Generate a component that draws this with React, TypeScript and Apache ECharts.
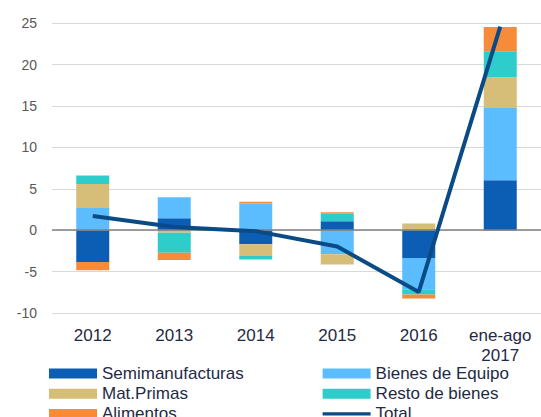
import React, { useEffect, useRef } from "react";
import * as echarts from "echarts";

const categories = ["2012", "2013", "2014", "2015", "2016", "ene-ago\n2017"];
const semimanufacturas = [-3.83, 1.45, -1.69, 1.09, -3.35, 6.05];
const bienesEquipo = [2.7, 2.54, 3.23, -2.9, -3.79, 8.71];
const matPrimas = [2.9, -0.3, -1.41, -1.25, 0.81, 3.71];
const restoBienes = [1.0, -2.42, -0.44, 0.89, -0.64, 3.14];
const alimentos = [-1.0, -0.88, 0.2, 0.2, -0.48, 2.94];
const total = [1.73, 0.39, -0.11, -1.97, -7.45, 24.6];

const FONT = "'Liberation Sans', Arial, sans-serif";
const TEXT = "#1F2A44";

export default function App() {
  const ref = useRef<HTMLDivElement>(null);
  useEffect(() => {
    if (!ref.current) return;
    const chart = echarts.init(ref.current, null, { renderer: "svg" });
    const bar = (name: string, data: number[], color: string, extra: any = {}) => ({
      name,
      type: "bar",
      stack: "a",
      data,
      barWidth: 33,
      itemStyle: { color },
      ...extra,
    });
    const legendBase = {
      orient: "vertical",
      top: 363.5,
      height: 80,
      padding: 0,
      itemWidth: 48,
      itemHeight: 10,
      itemGap: 0.2,
      textStyle: { color: TEXT, fontSize: 17, lineHeight: 20, fontFamily: FONT },
    };
    chart.setOption({
      animation: false,
      textStyle: { fontFamily: FONT },
      grid: { left: 52, top: 23.3, width: 500, height: 289.7, containLabel: false },
      xAxis: {
        type: "category",
        data: categories,
        axisLine: { show: false },
        axisTick: { show: false },
        axisLabel: { color: TEXT, fontSize: 17, lineHeight: 20.6, margin: 12, fontFamily: FONT },
      },
      yAxis: {
        type: "value",
        min: -10,
        max: 25,
        interval: 5,
        axisLine: { show: false },
        axisTick: { show: false },
        axisLabel: { color: "#595959", fontSize: 14, margin: 15, fontFamily: FONT },
        splitLine: { lineStyle: { color: "#D9D9D9", width: 1 } },
      },
      legend: [
        {
          ...legendBase,
          left: 49,
          data: [
            { name: "Semimanufacturas", icon: "rect" },
            { name: "Mat.Primas", icon: "rect" },
            { name: "Alimentos", icon: "rect" },
          ],
        },
        {
          ...legendBase,
          left: 322.6,
          data: [
            { name: "Bienes de Equipo", icon: "rect" },
            { name: "Resto de bienes", icon: "rect" },
            { name: "Total", icon: "path://M0 0H100V6.5H0Z" },
          ],
        },
      ],
      series: [
        bar("Semimanufacturas", semimanufacturas, "#0B5EB4", {
          markLine: {
            silent: true,
            symbol: "none",
            z: 5,
            label: { show: false },
            lineStyle: { color: "#808080", width: 1.5, type: "solid" },
            data: [{ yAxis: 0 }],
          },
        }),
        bar("Bienes de Equipo", bienesEquipo, "#5BBDFE"),
        bar("Mat.Primas", matPrimas, "#D6BD78"),
        bar("Resto de bienes", restoBienes, "#2ECDCC"),
        bar("Alimentos", alimentos, "#F68B3A"),
        {
          name: "Total",
          type: "line",
          data: total,
          symbol: "none",
          z: 10,
          lineStyle: { color: "#0A4A85", width: 4 },
          itemStyle: { color: "#0A4A85" },
        },
      ],
    });
    return () => chart.dispose();
  }, []);
  return (
    <div
      ref={ref}
      style={{ position: "absolute", left: 0, top: 0, width: 541, height: 417 }}
    />
  );
}
